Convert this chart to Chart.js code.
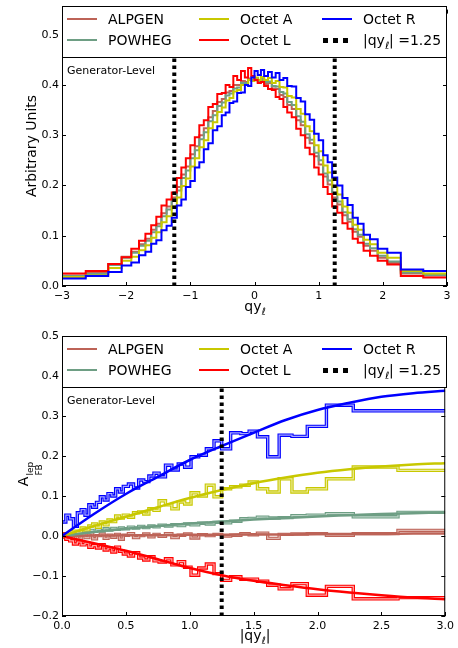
<!DOCTYPE html>
<html>
<head>
<meta charset="utf-8">
<script src="https://cdn.jsdelivr.net/npm/chart.js@4.4.1/dist/chart.umd.min.js"></script>
<style>
    body { margin: 0; background: #fff; font-family: 'DejaVu Sans', sans-serif; color: #000; }
    #wrap { position: relative; width: 458px; height: 648px; overflow: hidden; }
    canvas { position: absolute; left: 0; }
    .lbox { position: absolute; left: 62px; width: 385px; height: 52px; border: 1px solid #000; box-sizing: border-box; background: #fff; }
    .sw { position: absolute; width: 30px; height: 2px; }
    .dots { position: absolute; width: 25px; height: 5px; background: repeating-linear-gradient(90deg, #000 0 5px, transparent 5px 10px); }
    .lt { position: absolute; font-size: 14px; line-height: 16px; white-space: nowrap; }
    .gen { position: absolute; left: 67px; font-size: 11px; line-height: 14px; white-space: nowrap; }
    .xt { position: absolute; left: 255px; transform: translateX(-50%); font-size: 14px; line-height: 16px; white-space: nowrap; }
    .yt { position: absolute; transform: translate(-50%, -50%) rotate(-90deg); font-size: 14px; line-height: 16px; white-space: nowrap; }
    .ell { font-size: 10px; position: relative; top: 4px; }
    .stack { display: inline-flex; flex-direction: column; font-size: 9px; line-height: 9px; vertical-align: -5px; margin-left: 1px; }
</style>
</head>
<body>
<div id="wrap">
    <canvas id="topChart" width="458" height="320" style="top:0"></canvas>
    <canvas id="botChart" width="458" height="328" style="top:320px"></canvas>

    <div class="gen" style="top:64px">Generator-Level</div>
    <div class="gen" style="top:394px">Generator-Level</div>

    <div class="xt" style="top:298px">qy<span class="ell">ℓ</span></div>
    <div class="xt" style="top:627px">|qy<span class="ell">ℓ</span>|</div>
    <div class="yt" style="left:31px; top:146px">Arbitrary Units</div>
    <div class="yt" style="left:29px; top:474px">A<span class="stack"><span>lep</span><span>FB</span></span></div>

    <div class="lbox" id="legTop" style="top:6px"></div>
    <div class="lbox" id="legBot" style="top:336px"></div>
</div>

<script>
// --- Data ---
const seriesNames = ['ALPGEN', 'POWHEG', 'Octet A', 'Octet L', 'Octet R'];
const seriesColors = ['#bd6357', '#6e9e84', '#c8c800', '#ff0000', '#0000ff'];
const innerColors = ['#e2b5ae', '#bcd5c7', '#ecec9c', '#ffa8a8', '#a8a8ff'];

// top panel: qy bins (variable width)
const topEdges = [-3.0, -2.63, -2.28, -2.07, -1.92, -1.80, -1.70, -1.61, -1.53, -1.45, -1.37, -1.29, -1.21, -1.14, -1.07, -1.00,
    -0.93, -0.86, -0.79, -0.72, -0.65, -0.58, -0.51, -0.45, -0.39, -0.33, -0.27, -0.21, -0.15, -0.10, -0.05, 0,
    0.05, 0.10, 0.15, 0.21, 0.27, 0.33, 0.39, 0.45, 0.51, 0.58, 0.65, 0.72, 0.79, 0.86, 0.93, 1.00,
    1.07, 1.14, 1.21, 1.29, 1.37, 1.45, 1.53, 1.61, 1.70, 1.80, 1.92, 2.07, 2.28, 2.63, 3.0];

const topAlpgen = [0.021, 0.026, 0.044, 0.058, 0.068, 0.083, 0.094, 0.112, 0.124, 0.145, 0.158, 0.176, 0.197, 0.222, 0.238, 0.262,
    0.278, 0.3, 0.314, 0.336, 0.348, 0.366, 0.372, 0.385, 0.388, 0.4, 0.4, 0.408, 0.406, 0.413, 0.41,
    0.414, 0.407, 0.41, 0.402, 0.404, 0.393, 0.392, 0.38, 0.376, 0.36, 0.352, 0.33, 0.32, 0.295, 0.284, 0.258,
    0.242, 0.218, 0.202, 0.176, 0.162, 0.141, 0.128, 0.108, 0.098, 0.08, 0.07, 0.056, 0.046, 0.025, 0.021];
const topPowheg = [0.02, 0.024, 0.042, 0.056, 0.066, 0.08, 0.09, 0.107, 0.119, 0.139, 0.152, 0.172, 0.19, 0.215, 0.23, 0.254,
    0.27, 0.292, 0.306, 0.328, 0.34, 0.358, 0.365, 0.379, 0.383, 0.393, 0.395, 0.404, 0.404, 0.41, 0.41,
    0.414, 0.408, 0.412, 0.406, 0.407, 0.398, 0.397, 0.386, 0.383, 0.366, 0.36, 0.338, 0.327, 0.302, 0.291, 0.265,
    0.25, 0.224, 0.21, 0.183, 0.168, 0.147, 0.133, 0.113, 0.102, 0.084, 0.075, 0.06, 0.049, 0.027, 0.022];
const topOctetA = [0.018, 0.021, 0.036, 0.05, 0.058, 0.071, 0.081, 0.096, 0.107, 0.127, 0.139, 0.158, 0.176, 0.199, 0.214, 0.238,
    0.254, 0.276, 0.29, 0.314, 0.326, 0.346, 0.355, 0.369, 0.374, 0.387, 0.39, 0.4, 0.4, 0.41, 0.408,
    0.415, 0.41, 0.416, 0.41, 0.414, 0.404, 0.408, 0.396, 0.395, 0.378, 0.375, 0.352, 0.343, 0.318, 0.308, 0.28,
    0.268, 0.24, 0.226, 0.198, 0.182, 0.158, 0.146, 0.122, 0.112, 0.092, 0.083, 0.066, 0.056, 0.03, 0.025];
const topOctetL = [0.025, 0.03, 0.044, 0.057, 0.074, 0.09, 0.104, 0.121, 0.138, 0.16, 0.172, 0.186, 0.215, 0.236, 0.254, 0.28,
    0.296, 0.32, 0.33, 0.356, 0.362, 0.382, 0.384, 0.4, 0.396, 0.418, 0.41, 0.428, 0.415, 0.434, 0.418,
    0.41, 0.404, 0.406, 0.398, 0.392, 0.39, 0.376, 0.372, 0.356, 0.345, 0.336, 0.313, 0.3, 0.275, 0.262, 0.236,
    0.222, 0.197, 0.183, 0.158, 0.146, 0.125, 0.114, 0.094, 0.086, 0.07, 0.06, 0.05, 0.043, 0.02, 0.017];
const topOctetR = [0.015, 0.02, 0.028, 0.041, 0.047, 0.061, 0.068, 0.084, 0.091, 0.111, 0.12, 0.136, 0.16, 0.172, 0.197, 0.209,
    0.236, 0.246, 0.272, 0.284, 0.31, 0.318, 0.34, 0.345, 0.364, 0.367, 0.384, 0.385, 0.4, 0.398, 0.415,
    0.428, 0.42, 0.43, 0.418, 0.426, 0.415, 0.424, 0.41, 0.414, 0.398, 0.397, 0.374, 0.367, 0.342, 0.331, 0.303,
    0.29, 0.26, 0.246, 0.216, 0.2, 0.175, 0.161, 0.136, 0.124, 0.102, 0.093, 0.074, 0.066, 0.033, 0.03];

// bottom panel: A_FB vs |qy|
const absEdges = [0, 0.03, 0.06, 0.09, 0.12, 0.15, 0.18, 0.21, 0.24, 0.27, 0.30, 0.33, 0.36, 0.39, 0.42, 0.45, 0.48, 0.52,
    0.56, 0.60, 0.64, 0.68, 0.72, 0.76, 0.81, 0.86, 0.91, 0.96, 1.01, 1.07, 1.13, 1.19, 1.25, 1.32, 1.40, 1.465,
    1.53, 1.61, 1.70, 1.80, 1.92, 2.07, 2.28, 2.63, 3.0];

const afbAlpgen = [-0.003, 0.004, -0.006, 0.002, -0.008, 0.003, -0.004, 0.006, -0.007, 0.001, 0.005, -0.006, 0.002, -0.003,
    0.004, -0.008, 0.002, 0.006, -0.004, 0.001, 0.005, -0.002, 0.004, -0.001, 0.006, -0.004, 0.002, 0.005, -0.005, 0.003,
    0.001, 0.004, 0.0, 0.002, 0.006, 0.003, 0.007, -0.006, 0.004, 0.005, 0.006, 0.002, 0.006, 0.014];
const afbPowheg = [0.002, 0.006, 0.004, 0.01, 0.008, 0.012, 0.01, 0.014, 0.012, 0.016, 0.013, 0.018, 0.015, 0.019,
    0.017, 0.02, 0.018, 0.022, 0.02, 0.024, 0.021, 0.025, 0.023, 0.027, 0.025, 0.028, 0.026, 0.03, 0.028, 0.032,
    0.03, 0.034, 0.033, 0.037, 0.043, 0.044, 0.047, 0.045, 0.046, 0.051, 0.052, 0.056, 0.048, 0.059];
const afbOctetA = [0.005, -0.005, 0.01, 0.012, 0.008, 0.02, 0.015, 0.025, 0.03, 0.022, 0.035, 0.028, 0.04, 0.036,
    0.05, 0.045, 0.052, 0.047, 0.058, 0.06, 0.055, 0.068, 0.064, 0.088, 0.078, 0.068, 0.085, 0.08, 0.108, 0.1,
    0.127, 0.098, 0.118, 0.123, 0.127, 0.135, 0.118, 0.11, 0.143, 0.11, 0.118, 0.143, 0.1725, 0.164];
const afbOctetL = [0.005, -0.008, -0.012, -0.02, -0.015, -0.022, -0.018, -0.028, -0.024, -0.03, -0.022, -0.035, -0.03, -0.04,
    -0.028, -0.038, -0.045, -0.05, -0.042, -0.055, -0.06, -0.052, -0.062, -0.065, -0.057, -0.072, -0.064, -0.078, -0.098, -0.08,
    -0.07, -0.094, -0.111, -0.102, -0.108, -0.108, -0.113, -0.123, -0.132, -0.119, -0.148, -0.126, -0.157, -0.154];
const afbOctetR = [0.035, 0.052, 0.043, 0.024, 0.058, 0.066, 0.052, 0.078, 0.072, 0.084, 0.098, 0.09, 0.106, 0.1,
    0.118, 0.11, 0.124, 0.13, 0.12, 0.14, 0.136, 0.15, 0.157, 0.148, 0.177, 0.165, 0.18, 0.172, 0.198, 0.202,
    0.218, 0.238, 0.218, 0.258, 0.256, 0.262, 0.248, 0.198, 0.252, 0.249, 0.274, 0.327, 0.313, 0.313];

// smooth fits
const fitX = [0, 0.25, 0.5, 0.75, 1.0, 1.25, 1.5, 1.75, 2.0, 2.25, 2.5, 2.75, 3.0];
const fitAlpgen = [0, 0.001, 0.002, 0.002, 0.003, 0.003, 0.004, 0.004, 0.005, 0.005, 0.005, 0.006, 0.006];
const fitPowheg = [0, 0.01, 0.018, 0.025, 0.031, 0.036, 0.041, 0.045, 0.049, 0.052, 0.055, 0.057, 0.059];
const fitOctetA = [0, 0.025, 0.048, 0.072, 0.095, 0.115, 0.132, 0.146, 0.158, 0.167, 0.174, 0.179, 0.182];
const fitOctetL = [0, -0.018, -0.037, -0.058, -0.08, -0.098, -0.112, -0.123, -0.133, -0.141, -0.148, -0.154, -0.158];
const fitOctetR = [0, 0.055, 0.105, 0.148, 0.19, 0.225, 0.258, 0.29, 0.315, 0.333, 0.348, 0.357, 0.363];

// cuts and axes
const topCuts = [-1.25, 1.25];
const botCuts = [1.25];
const topXRange = [-3, 3];
const topYRange = [0, 0.55];
const botXRange = [0, 3];
const botYRange = [-0.2, 0.5];
const topXTicks = [-3, -2, -1, 0, 1, 2, 3];
const topYTicks = [0, 0.1, 0.2, 0.3, 0.4, 0.5];
const botXTicks = [0, 0.5, 1.0, 1.5, 2.0, 2.5, 3.0];
const botYTicks = [-0.2, -0.1, 0, 0.1, 0.2, 0.3, 0.4, 0.5];

// --- Helpers ---
Chart.defaults.font.family = "'DejaVu Sans', sans-serif";
Chart.defaults.font.size = 11;
Chart.defaults.color = '#000';

const minus = s => s.replace('-', '\u2212');

function stepPoints(edges, vals) {
    const pts = vals.map((v, i) => ({ x: edges[i], y: v }));
    pts.push({ x: edges[edges.length - 1], y: vals[vals.length - 1] });
    return pts;
}

function cutLine(c, yr) {
    return {
        data: [{ x: c, y: yr[0] }, { x: c, y: yr[1] }],
        borderColor: '#000',
        borderWidth: 4,
        borderDash: [3.5, 3.5],
        borderCapStyle: 'butt',
        pointRadius: 0,
    };
}

// inward ticks on all four sides plus the frame
const frameTicks = {
    id: 'frameTicks',
    afterDraw(chart) {
        const { ctx, chartArea: a, scales: { x, y } } = chart;
        ctx.save();
        ctx.strokeStyle = '#000';
        ctx.lineWidth = 1;
        ctx.beginPath();
        x.ticks.forEach(t => {
            const px = Math.round(x.getPixelForValue(t.value)) + 0.5;
            ctx.moveTo(px, a.bottom); ctx.lineTo(px, a.bottom - 4);
            ctx.moveTo(px, a.top); ctx.lineTo(px, a.top + 4);
        });
        y.ticks.forEach(t => {
            const py = Math.round(y.getPixelForValue(t.value)) + 0.5;
            ctx.moveTo(a.left, py); ctx.lineTo(a.left + 4, py);
            ctx.moveTo(a.right, py); ctx.lineTo(a.right - 4, py);
        });
        ctx.stroke();
        ctx.strokeRect(a.left + 0.5, a.top + 0.5, a.right - a.left - 1, a.bottom - a.top - 1);
        ctx.restore();
    },
};

function axes(xr, yr, xt, yt, xFmt, xHeight) {
    return {
        x: {
            type: 'linear', min: xr[0], max: xr[1],
            afterBuildTicks: s => { s.ticks = xt.map(v => ({ value: v })); },
            afterFit: s => { s.height = xHeight; },
            grid: { display: false, drawTicks: false },
            border: { display: false },
            ticks: { padding: 4, autoSkip: false, maxRotation: 0, callback: xFmt },
        },
        y: {
            type: 'linear', min: yr[0], max: yr[1],
            afterBuildTicks: s => { s.ticks = yt.map(v => ({ value: v })); },
            afterFit: s => { s.width = 62; },
            grid: { display: false, drawTicks: false },
            border: { display: false },
            ticks: { padding: 3, autoSkip: false, callback: v => minus(v.toFixed(1)) },
        },
    };
}

const baseOpts = {
    responsive: false,
    animation: false,
    events: [],
    plugins: { legend: { display: false }, tooltip: { enabled: false } },
    elements: { point: { radius: 0 }, line: { fill: false } },
};

// --- Top panel ---
const topSeries = [topAlpgen, topPowheg, topOctetA, topOctetL, topOctetR];
const topSets = topCuts.map(c => cutLine(c, topYRange));
[4, 3, 2, 1, 0].forEach(i => {
    topSets.push({
        data: stepPoints(topEdges, topSeries[i]),
        borderColor: seriesColors[i],
        borderWidth: 2,
        stepped: true,
        pointRadius: 0,
    });
});

new Chart(document.getElementById('topChart'), {
    type: 'line',
    data: { datasets: topSets },
    options: {
        ...baseOpts,
        layout: { padding: { left: 0, right: 11, top: 6, bottom: 0 } },
        scales: axes(topXRange, topYRange, topXTicks, topYTicks, v => minus(String(v)), 34),
    },
    plugins: [frameTicks],
});

// --- Bottom panel ---
const afbSeries = [afbAlpgen, afbPowheg, afbOctetA, afbOctetL, afbOctetR];
const fitSeries = [fitAlpgen, fitPowheg, fitOctetA, fitOctetL, fitOctetR];
const botSets = botCuts.map(c => cutLine(c, botYRange));
[4, 3, 2, 1, 0].forEach(i => {
    botSets.push({
        data: fitX.map((x, k) => ({ x, y: fitSeries[i][k] })),
        borderColor: seriesColors[i],
        borderWidth: 2.5,
        cubicInterpolationMode: 'monotone',
        pointRadius: 0,
    });
});
// histograms drawn as a pale band edged in colour
[4, 3, 2, 1, 0].forEach(i => {
    const pts = stepPoints(absEdges, afbSeries[i]);
    botSets.push({ data: pts, borderColor: innerColors[i], borderWidth: 1.2, stepped: true, pointRadius: 0 });
    botSets.push({ data: pts, borderColor: seriesColors[i], borderWidth: 3.4, stepped: true, pointRadius: 0 });
});

new Chart(document.getElementById('botChart'), {
    type: 'line',
    data: { datasets: botSets },
    options: {
        ...baseOpts,
        layout: { padding: { left: 0, right: 11, top: 16, bottom: 0 } },
        scales: axes(botXRange, botYRange, botXTicks, botYTicks, v => v.toFixed(1), 32),
    },
    plugins: [frameTicks],
});

// --- Legends (HTML, inside the axes) ---
const legCols = [4, 136, 259];
const legRows = [12, 33];
const legOrder = [0, 1, 2, 3, 4]; // column-major, 3 columns

function buildLegend(box) {
    legOrder.forEach((si, k) => {
        const col = Math.floor(k / 2), row = k % 2;
        const sw = document.createElement('div');
        sw.className = 'sw';
        sw.style.left = legCols[col] + 'px';
        sw.style.top = (legRows[row] - 1) + 'px';
        sw.style.background = seriesColors[si];
        box.appendChild(sw);
        const t = document.createElement('div');
        t.className = 'lt';
        t.style.left = (legCols[col] + 41) + 'px';
        t.style.top = (legRows[row] - 8) + 'px';
        t.textContent = seriesNames[si];
        box.appendChild(t);
    });
    const d = document.createElement('div');
    d.className = 'dots';
    d.style.left = (legCols[2] + 1) + 'px';
    d.style.top = (legRows[1] - 2) + 'px';
    box.appendChild(d);
    const t = document.createElement('div');
    t.className = 'lt';
    t.style.left = (legCols[2] + 41) + 'px';
    t.style.top = (legRows[1] - 8) + 'px';
    t.innerHTML = '|qy<span class="ell">ℓ</span>| =1.25';
    box.appendChild(t);
}

buildLegend(document.getElementById('legTop'));
buildLegend(document.getElementById('legBot'));
</script>
</body>
</html>
